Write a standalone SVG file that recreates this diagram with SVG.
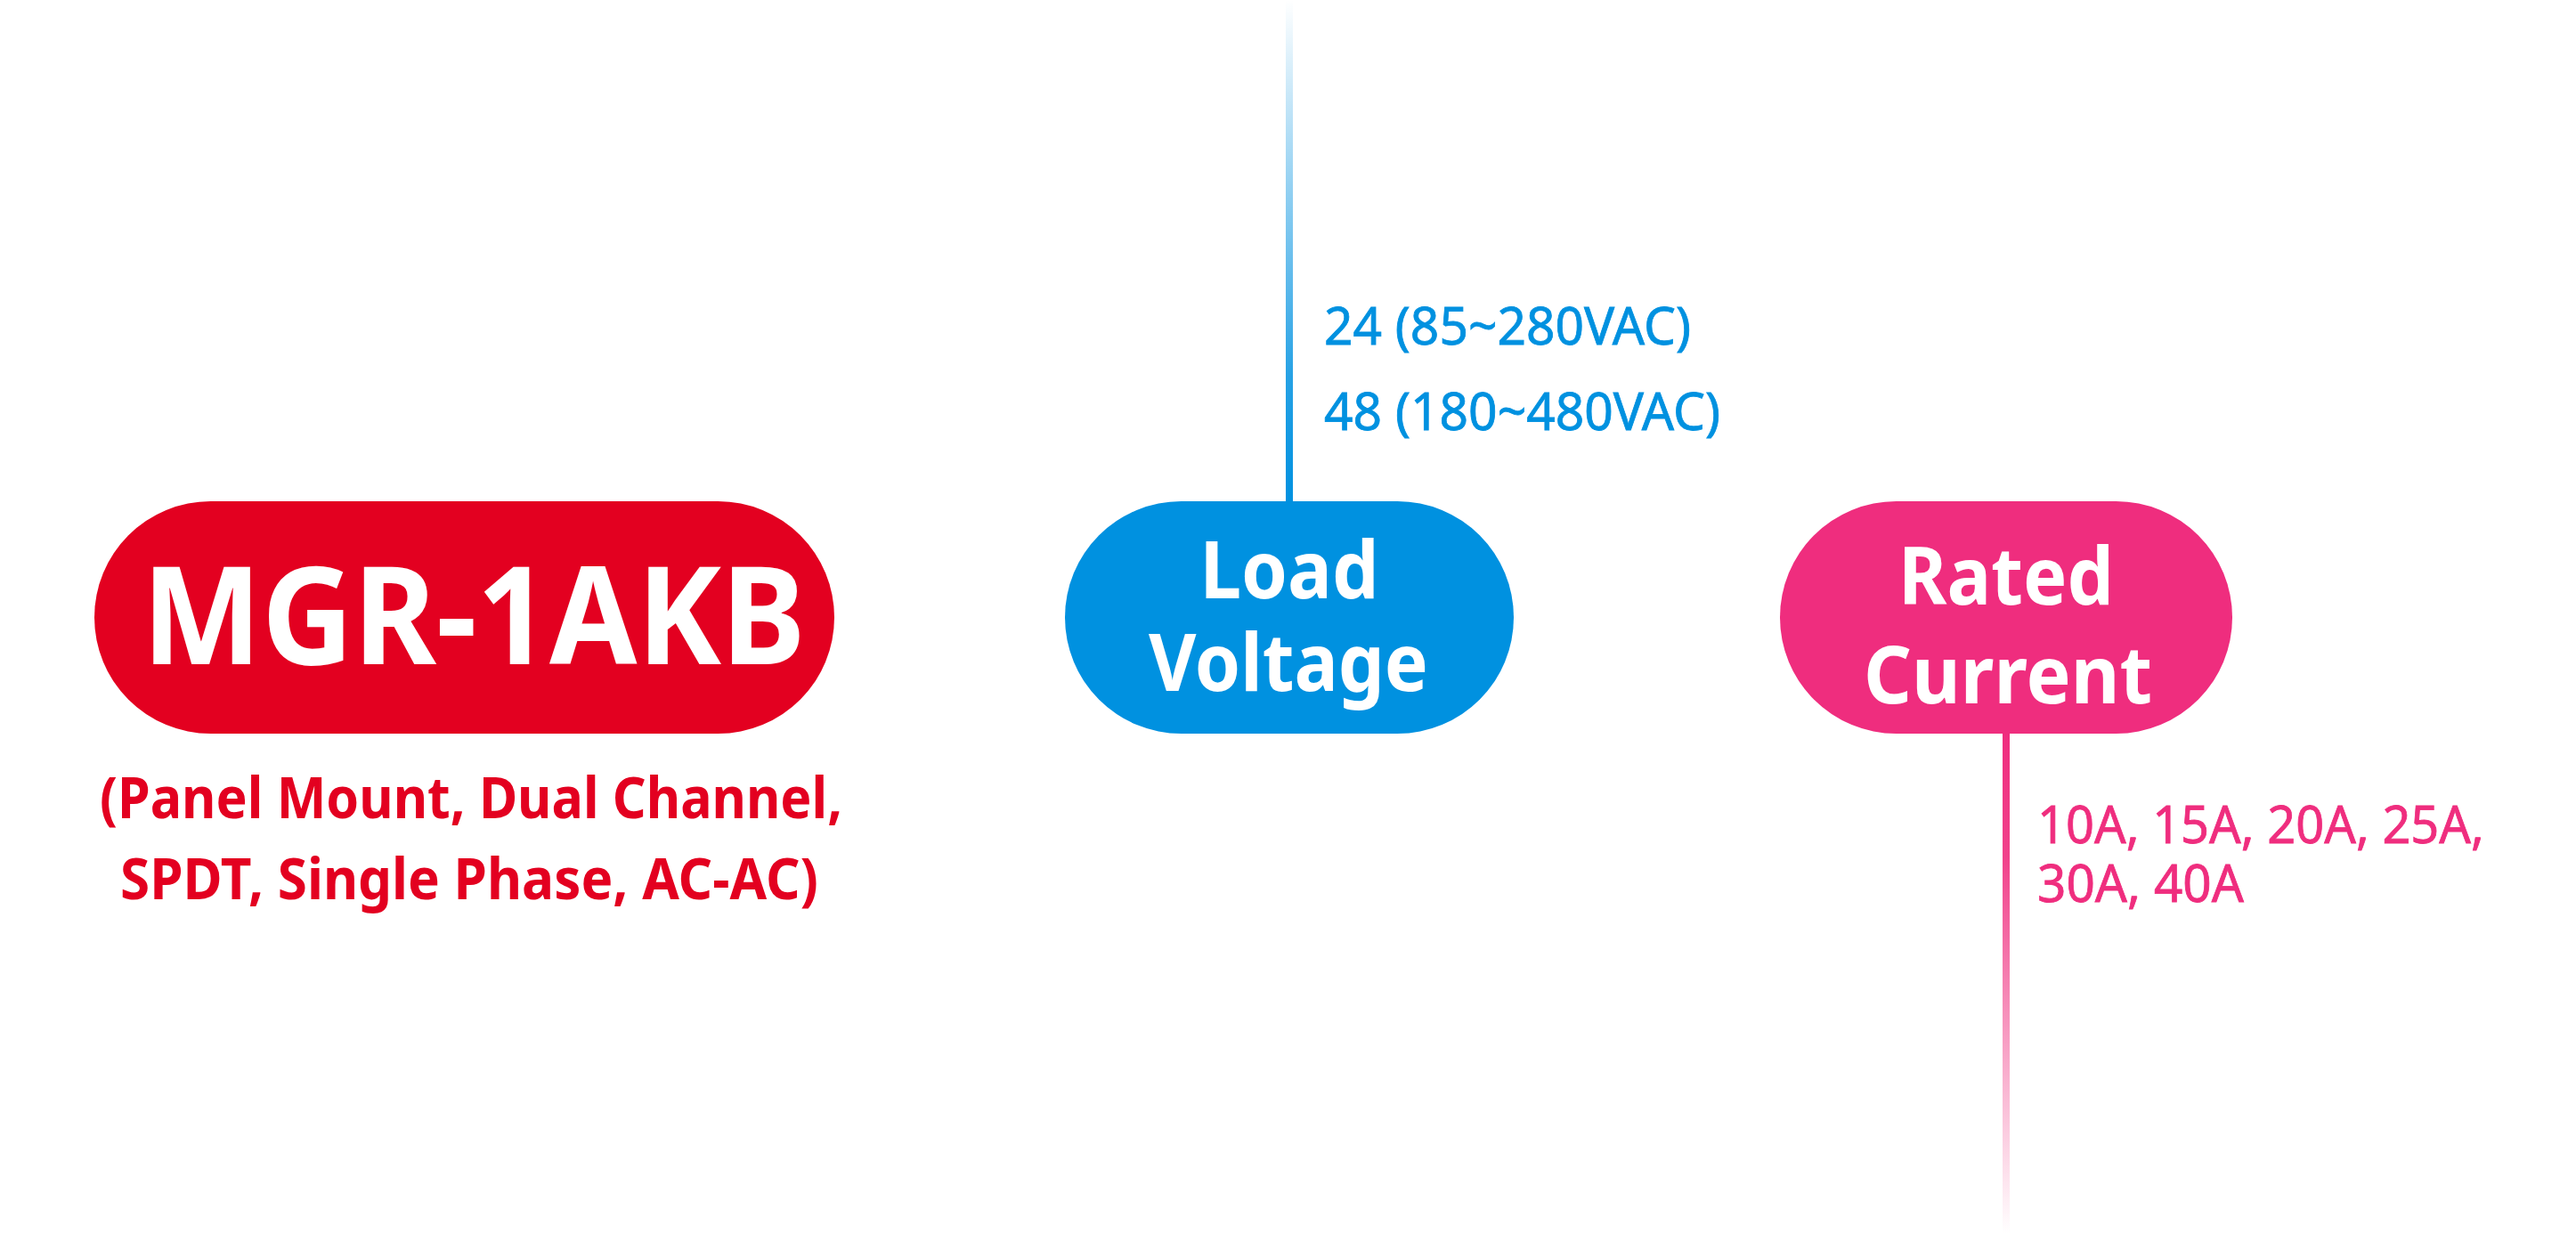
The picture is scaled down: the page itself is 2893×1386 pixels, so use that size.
<svg xmlns="http://www.w3.org/2000/svg" width="2893" height="1386" viewBox="0 0 2893 1386">
  <defs>
    <linearGradient id="gradBlue" x1="0" y1="0" x2="0" y2="1">
      <stop offset="0" stop-color="#0091E0" stop-opacity="0"/>
      <stop offset="0.75" stop-color="#0091E0" stop-opacity="0.85"/>
      <stop offset="1" stop-color="#0091E0" stop-opacity="1"/>
    </linearGradient>
    <linearGradient id="gradPink" x1="0" y1="0" x2="0" y2="1">
      <stop offset="0" stop-color="#EF2D7E" stop-opacity="1"/>
      <stop offset="0.25" stop-color="#EF2D7E" stop-opacity="0.9"/>
      <stop offset="1" stop-color="#EF2D7E" stop-opacity="0"/>
    </linearGradient>
  </defs>
  <style>
    .title { font-family: "Noto Sans", "Open Sans", sans-serif; font-weight: 700; fill: #FFFFFF; }
    .big { font-size: 153px; }
    .mid { font-size: 89px; }
    .sub { font-family: "Noto Sans", "Open Sans", sans-serif; font-weight: 700; font-size: 64px; fill: #E30020; }
    .opt { font-family: "Noto Sans", "Open Sans", sans-serif; font-weight: 400; font-size: 58px; stroke-width: 0.8px; }
    .blue { fill: #0091E0; stroke: #0091E0; }
    .pink { fill: #EF2D7E; stroke: #EF2D7E; }
  </style>
  <rect width="2893" height="1386" fill="#FFFFFF"/>

  <g id="connectors">
    <rect x="1444" y="0" width="8" height="564" fill="url(#gradBlue)"/>
    <rect x="2249" y="823" width="8" height="563" fill="url(#gradPink)"/>
  </g>

  <g id="node-model">
    <rect x="106" y="563" width="831" height="261" rx="130.5" ry="130.5" fill="#E30020"/>
    <text class="title big" x="532" y="746" text-anchor="middle" textLength="745" lengthAdjust="spacingAndGlyphs">MGR-1AKB</text>
    <text class="sub" text-anchor="middle"><tspan x="529" y="919" textLength="834" lengthAdjust="spacingAndGlyphs">(Panel Mount, Dual Channel,</tspan><tspan x="527" y="1010" textLength="784" lengthAdjust="spacingAndGlyphs">SPDT, Single Phase, AC-AC)</tspan></text>
  </g>

  <g id="node-load-voltage">
    <rect x="1196" y="563" width="504" height="261" rx="130.5" ry="130.5" fill="#0091E0"/>
    <text class="title mid" text-anchor="middle"><tspan x="1448" y="672" textLength="201" lengthAdjust="spacingAndGlyphs">Load</tspan><tspan x="1447" y="776" textLength="314" lengthAdjust="spacingAndGlyphs">Voltage</tspan></text>
    <text class="opt blue"><tspan x="1487" y="387" textLength="412" lengthAdjust="spacingAndGlyphs">24 (85~280VAC)</tspan><tspan x="1487" y="483" textLength="445" lengthAdjust="spacingAndGlyphs">48 (180~480VAC)</tspan></text>
  </g>

  <g id="node-rated-current">
    <rect x="1999" y="563" width="508" height="261" rx="130.5" ry="130.5" fill="#EF2D7E"/>
    <text class="title mid" text-anchor="middle"><tspan x="2253" y="679" textLength="242" lengthAdjust="spacingAndGlyphs">Rated</tspan><tspan x="2255" y="790" textLength="324" lengthAdjust="spacingAndGlyphs">Current</tspan></text>
    <text class="opt pink"><tspan x="2288" y="947" textLength="502" lengthAdjust="spacingAndGlyphs">10A, 15A, 20A, 25A,</tspan><tspan x="2288" y="1013" textLength="232" lengthAdjust="spacingAndGlyphs">30A, 40A</tspan></text>
  </g>
</svg>
